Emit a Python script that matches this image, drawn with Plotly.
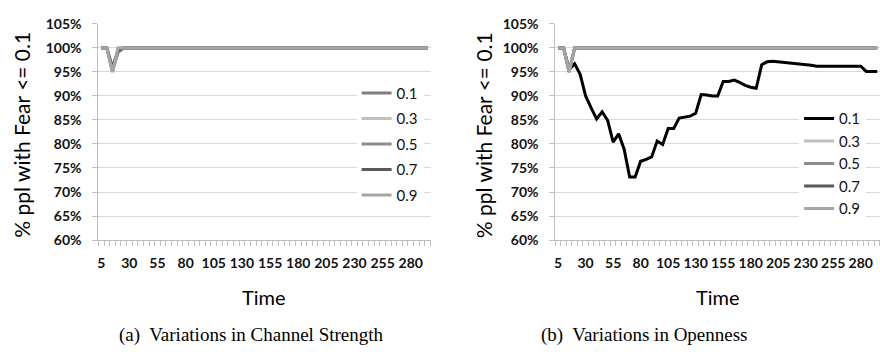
import plotly.graph_objects as go

# ---------------- data ----------------
TIME = list(range(5, 300, 5))  # categories 5..295
TICK_VALUES = [5, 30, 55, 80, 105, 130, 155, 180, 205, 230, 255, 280]
TICK_LABELS = ["5", "30", "55", "80", "105", "130", "155", "180", "205", "230", "255", "280"]
Y_TICKS = [60, 65, 70, 75, 80, 85, 90, 95, 100, 105]
Y_LABELS = ["60%", "65%", "70%", "75%", "80%", "85%", "90%", "95%", "100%", "105%"]
SERIES_NAMES = ["0.1", "0.3", "0.5", "0.7", "0.9"]

# (a) Variations in Channel Strength  (% of people with Fear <= 0.1)
chan_01 = [100, 100, 95.5, 99.5, 100, 100, 100, 100, 100, 100, 100, 100, 100, 100, 100, 100, 100, 100, 100, 100,
           100, 100, 100, 100, 100, 100, 100, 100, 100, 100, 100, 100, 100, 100, 100, 100, 100, 100, 100, 100,
           100, 100, 100, 100, 100, 100, 100, 100, 100, 100, 100, 100, 100, 100, 100, 100, 100, 100, 100]
chan_03 = [100, 100, 95, 100, 100, 100, 100, 100, 100, 100, 100, 100, 100, 100, 100, 100, 100, 100, 100, 100,
           100, 100, 100, 100, 100, 100, 100, 100, 100, 100, 100, 100, 100, 100, 100, 100, 100, 100, 100, 100,
           100, 100, 100, 100, 100, 100, 100, 100, 100, 100, 100, 100, 100, 100, 100, 100, 100, 100, 100]
chan_05 = [100, 100, 95, 99, 100, 100, 100, 100, 100, 100, 100, 100, 100, 100, 100, 100, 100, 100, 100, 100,
           100, 100, 100, 100, 100, 100, 100, 100, 100, 100, 100, 100, 100, 100, 100, 100, 100, 100, 100, 100,
           100, 100, 100, 100, 100, 100, 100, 100, 100, 100, 100, 100, 100, 100, 100, 100, 100, 100, 100]
chan_07 = [100, 100, 96, 99.5, 100, 100, 100, 100, 100, 100, 100, 100, 100, 100, 100, 100, 100, 100, 100, 100,
           100, 100, 100, 100, 100, 100, 100, 100, 100, 100, 100, 100, 100, 100, 100, 100, 100, 100, 100, 100,
           100, 100, 100, 100, 100, 100, 100, 100, 100, 100, 100, 100, 100, 100, 100, 100, 100, 100, 100]
chan_09 = [100, 100, 95, 100, 100, 100, 100, 100, 100, 100, 100, 100, 100, 100, 100, 100, 100, 100, 100, 100,
           100, 100, 100, 100, 100, 100, 100, 100, 100, 100, 100, 100, 100, 100, 100, 100, 100, 100, 100, 100,
           100, 100, 100, 100, 100, 100, 100, 100, 100, 100, 100, 100, 100, 100, 100, 100, 100, 100, 100]

# (b) Variations in Openness
open_01 = [100, 100, 95.5, 96.7, 94.5, 90.0, 87.5, 85.2, 86.7, 84.9, 80.4, 82.1, 78.9, 73.1, 73.1, 76.4, 76.8,
           77.3, 80.6, 79.9, 83.2, 83.2, 85.4, 85.6, 85.8, 86.4, 90.3, 90.2, 90.0, 90.0, 93.0, 93.0, 93.3, 92.8,
           92.2, 91.8, 91.6, 96.5, 97.1, 97.2, 97.1, 97.0, 96.8, 96.7, 96.6, 96.5, 96.4, 96.2, 96.2, 96.2, 96.2,
           96.2, 96.2, 96.2, 96.2, 96.2, 95.1, 95.1, 95.1]
open_03 = [100, 100, 95, 100, 100, 100, 100, 100, 100, 100, 100, 100, 100, 100, 100, 100, 100, 100, 100, 100,
           100, 100, 100, 100, 100, 100, 100, 100, 100, 100, 100, 100, 100, 100, 100, 100, 100, 100, 100, 100,
           100, 100, 100, 100, 100, 100, 100, 100, 100, 100, 100, 100, 100, 100, 100, 100, 100, 100, 100]
open_05 = [100, 100, 95, 100, 100, 100, 100, 100, 100, 100, 100, 100, 100, 100, 100, 100, 100, 100, 100, 100,
           100, 100, 100, 100, 100, 100, 100, 100, 100, 100, 100, 100, 100, 100, 100, 100, 100, 100, 100, 100,
           100, 100, 100, 100, 100, 100, 100, 100, 100, 100, 100, 100, 100, 100, 100, 100, 100, 100, 100]
open_07 = [100, 100, 95, 100, 100, 100, 100, 100, 100, 100, 100, 100, 100, 100, 100, 100, 100, 100, 100, 100,
           100, 100, 100, 100, 100, 100, 100, 100, 100, 100, 100, 100, 100, 100, 100, 100, 100, 100, 100, 100,
           100, 100, 100, 100, 100, 100, 100, 100, 100, 100, 100, 100, 100, 100, 100, 100, 100, 100, 100]
open_09 = [100, 100, 95, 100, 100, 100, 100, 100, 100, 100, 100, 100, 100, 100, 100, 100, 100, 100, 100, 100,
           100, 100, 100, 100, 100, 100, 100, 100, 100, 100, 100, 100, 100, 100, 100, 100, 100, 100, 100, 100,
           100, 100, 100, 100, 100, 100, 100, 100, 100, 100, 100, 100, 100, 100, 100, 100, 100, 100, 100]

CHANNEL = [chan_01, chan_03, chan_05, chan_07, chan_09]
OPENNESS = [open_01, open_03, open_05, open_07, open_09]

# ---------------- styling ----------------
COLORS_A = ["#7f7f7f", "#bfbfbf", "#8c8c8c", "#595959", "#a6a6a6"]
COLORS_B = ["#000000", "#bfbfbf", "#8c8c8c", "#595959", "#a6a6a6"]
TICK_FONT = dict(family="Lato", size=14, color="#111111", weight="bold")
LEG_FONT = dict(family="Lato", size=15, color="#111111")
GRID = "#d9d9d9"
AXIS = "#bfbfbf"
W, H = 880, 360

fig = go.Figure()

for i, name in enumerate(SERIES_NAMES):
    fig.add_trace(go.Scatter(
        x=TIME, y=CHANNEL[i], mode="lines", name=name,
        line=dict(color=COLORS_A[i], width=3),
        xaxis="x", yaxis="y", legend="legend", legendgroup="a" + name,
    ))
for i, name in enumerate(SERIES_NAMES):
    fig.add_trace(go.Scatter(
        x=TIME, y=OPENNESS[i], mode="lines", name=name,
        line=dict(color=COLORS_B[i], width=3),
        xaxis="x2", yaxis="y2", legend="legend2", legendgroup="b" + name,
    ))

boundaries = [t - 2.5 for t in TIME] + [TIME[-1] + 2.5]

def xaxis_cfg(domain, anchor):
    return dict(
        domain=domain, anchor=anchor, range=[TIME[0] - 2.5, TIME[-1] + 2.5],
        tickmode="array", tickvals=TICK_VALUES, ticktext=TICK_LABELS,
        ticks="", showgrid=False, zeroline=False,
        showline=True, linecolor=AXIS, linewidth=1,
        tickfont=TICK_FONT, ticklabelstandoff=10,
        minor=dict(ticks="outside", tickmode="array", tickvals=boundaries,
                   ticklen=5, tickcolor=AXIS, tickwidth=1, showgrid=False),
    )

def yaxis_cfg(domain, anchor):
    return dict(
        domain=domain, anchor=anchor, range=[60, 105],
        tickmode="array", tickvals=Y_TICKS, ticktext=Y_LABELS,
        ticks="outside", ticklen=5, tickcolor=AXIS,
        showgrid=True, gridcolor=GRID, gridwidth=1, zeroline=False,
        showline=True, linecolor=AXIS, linewidth=1,
        tickfont=TICK_FONT, ticklabelstandoff=8,
    )

ydom = [1 - 242.5 / H, 1 - 15.6 / H]
fig.update_layout(
    width=W, height=H, autosize=False,
    margin=dict(l=0, r=0, t=0, b=0),
    paper_bgcolor="white", plot_bgcolor="white",
    xaxis=xaxis_cfg([97.5 / W, 430 / W], "y"),
    yaxis=yaxis_cfg(ydom, "x"),
    xaxis2=xaxis_cfg([555 / W, 1.0], "y2"),
    yaxis2=yaxis_cfg(ydom, "x2"),
    legend=dict(x=356 / W, y=1 - 71 / H, xanchor="left", yanchor="top",
                bgcolor="white", font=LEG_FONT, tracegroupgap=3,
                borderwidth=0),
    legend2=dict(x=799 / W, y=1 - 98 / H, xanchor="left", yanchor="top",
                 bgcolor="white", font=LEG_FONT, tracegroupgap=0,
                 borderwidth=0),
    showlegend=True,
)

ann = []
for xc in [21 / W, 483 / W]:
    ann.append(dict(text="% ppl with Fear <= 0.1", x=xc, y=1 - 132 / H, xref="paper", yref="paper",
                    textangle=-90, showarrow=False, xanchor="center", yanchor="middle",
                    font=dict(family="Lato", size=21, color="#000000")))
for xc in [(97.5 + 430) / 2 / W, (555 + 880) / 2 / W]:
    ann.append(dict(text="Time", x=xc, y=1 - 302 / H, xref="paper", yref="paper",
                    showarrow=False, xanchor="center", yanchor="middle",
                    font=dict(family="Lato", size=20, color="#000000")))
ann.append(dict(text="(a)  Variations in Channel Strength", x=251 / W, y=1 - 342 / H,
                xref="paper", yref="paper", showarrow=False, xanchor="center", yanchor="middle",
                font=dict(family="Liberation Serif", size=19, color="#000000")))
ann.append(dict(text="(b)  Variations in Openness", x=644 / W, y=1 - 342 / H,
                xref="paper", yref="paper", showarrow=False, xanchor="center", yanchor="middle",
                font=dict(family="Liberation Serif", size=19, color="#000000")))
fig.update_layout(annotations=ann)

fig.write_html("out.html", config={"displayModeBar": False},
               post_script="document.body.style.margin = '0';")
